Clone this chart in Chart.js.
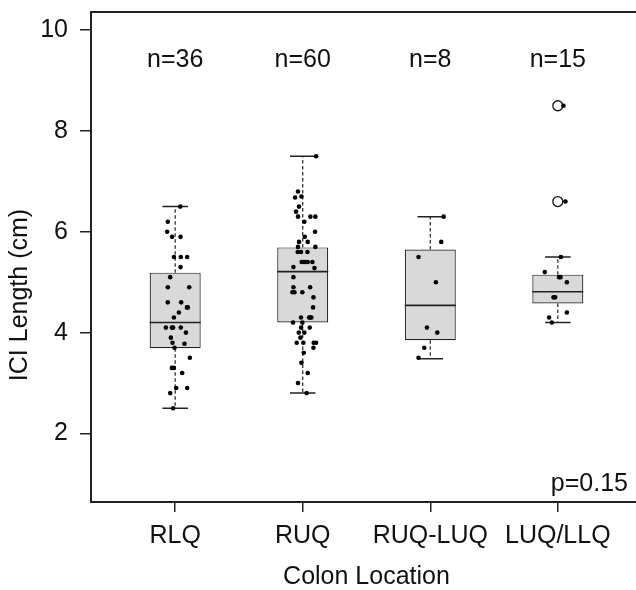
<!DOCTYPE html>
<html><head><meta charset="utf-8">
<style>
html,body{margin:0;padding:0;overflow:hidden;background:#fff;width:636px;height:590px;}
#wrap{width:650px;height:590px;position:relative;}
canvas{display:block;}
</style>
<script src="https://cdn.jsdelivr.net/npm/chart.js@4.4.1/dist/chart.umd.min.js"></script>
</head><body><div id="wrap"><canvas id="c" width="650" height="590"></canvas></div>
<script>
// ---- data ----
const categories = ['RLQ', 'RUQ', 'RUQ-LUQ', 'LUQ/LLQ'];
const nLabels = ['n=36', 'n=60', 'n=8', 'n=15'];
const pValueLabel = 'p=0.15';
const yTickValues = [2, 4, 6, 8, 10];
const xTitle = 'Colon Location';
const yTitle = 'ICI Length (cm)';

const whiskerLow  = [2.5, 2.8, 3.48, 4.2];
const q1          = [3.69, 4.2, 3.85, 4.58];
const median      = [4.2, 5.21, 4.54, 4.81];
const q3          = [5.19, 5.69, 5.65, 5.15];
const whiskerHigh = [6.5, 7.5, 6.3, 5.5];

const outlierGroup  = [4, 4];
const outlierValues = [8.5, 6.6];

const rlqValues = [6.5, 6.2, 6.0, 5.9, 5.9, 5.5, 5.5, 5.5, 5.3, 5.1, 4.9, 4.9, 4.6, 4.6, 4.5, 4.5, 4.4, 4.3, 4.1, 4.1, 4.1, 4.1, 4.0, 3.9, 3.8, 3.78, 3.7, 3.5, 3.3, 3.3, 3.2, 2.9, 2.9, 2.8, 2.5];
const rlqJitter = [0.04, -0.058, -0.063, -0.024, 0.042, -0.01, 0.044, 0.094, 0.042, -0.039, -0.058, 0.11, -0.058, 0.047, 0.092, 0.099, 0.029, -0.01, -0.073, -0.026, -0.016, 0.044, 0.084, -0.034, -0.021, 0.073, -0.005, 0.115, -0.026, -0.01, 0.055, 0.008, 0.094, -0.039, -0.016];

const ruqValues = [7.5, 6.8, 6.68, 6.7, 6.5, 6.4, 6.3, 6.3, 6.3, 6.2, 6.0, 5.9, 5.8, 5.8, 5.7, 5.7, 5.6, 5.6, 5.6, 5.4, 5.4, 5.4, 5.4, 5.4, 5.3, 5.28, 5.1, 4.9, 4.9, 4.8, 4.8, 4.8, 4.7, 4.5, 4.3, 4.3, 4.3, 4.3, 4.2, 4.2, 4.1, 4.1, 4.0, 4.0, 3.9, 3.8, 3.8, 3.8, 3.8, 3.7, 3.6, 3.4, 3.2, 3.0, 2.8];
const ruqJitter = [0.105, -0.037, -0.06, -0.01, -0.029, -0.052, -0.037, 0.06, 0.099, 0.013, 0.097, 0.016, -0.029, 0.039, -0.037, 0.099, -0.039, -0.013, 0.037, -0.008, 0.008, 0.024, 0.039, 0.076, -0.073, 0.092, -0.073, -0.073, 0.058, -0.081, -0.065, -0.003, 0.084, 0.081, -0.013, 0.05, 0.06, 0.068, -0.076, -0.003, -0.013, 0.055, -0.031, 0.013, -0.018, -0.047, 0.005, 0.086, 0.105, 0.084, 0.008, -0.01, 0.039, -0.037, 0.031];

const midValues = [6.3, 5.8, 5.5, 5.0, 4.1, 4.0, 3.7, 3.5];
const midJitter = [0.105, 0.086, -0.092, 0.044, -0.026, 0.055, -0.047, -0.092];

const luqValues = [8.5, 6.6, 5.5, 5.2, 5.1, 5.1, 5.0, 4.7, 4.7, 4.4, 4.3, 4.2];
const luqJitter = [0.044, 0.06, 0.024, -0.102, 0.01, 0.021, 0.071, -0.034, -0.021, 0.071, -0.068, -0.047];

// ---- build datasets ----
const FONT = '"Liberation Sans", Arial, Helvetica, sans-serif';
const groups = [[rlqValues, rlqJitter], [ruqValues, ruqJitter], [midValues, midJitter], [luqValues, luqJitter]];
const pointData = [];
groups.forEach((g, i) => g[0].forEach((v, k) => pointData.push({ x: i + 1 + g[1][k], y: v })));
const boxData = categories.map((c, i) => ({ x: i + 1, y: [q1[i], q3[i]] }));
const outlierData = outlierValues.map((v, i) => ({ x: outlierGroup[i], y: v }));

const boxPlugin = {
  id: 'boxParts',
  afterDatasetDraw(chart, args) {
    if (args.meta.type !== 'bar') return;
    const ctx = chart.ctx, ys = chart.scales.y;
    ctx.save();
    ctx.strokeStyle = '#222';
    args.meta.data.forEach((bar, i) => {
      const x = bar.x, half = bar.width / 2, cap = half / 2;
      const yMed = ys.getPixelForValue(median[i]);
      ctx.setLineDash([]);
      ctx.lineWidth = 1.6;
      ctx.beginPath(); ctx.moveTo(x - half, yMed); ctx.lineTo(x + half, yMed); ctx.stroke();
      ctx.lineWidth = 1.2;
      ctx.setLineDash([3.5, 2.5]);
      ctx.beginPath();
      ctx.moveTo(x, ys.getPixelForValue(q3[i])); ctx.lineTo(x, ys.getPixelForValue(whiskerHigh[i]));
      ctx.moveTo(x, ys.getPixelForValue(q1[i])); ctx.lineTo(x, ys.getPixelForValue(whiskerLow[i]));
      ctx.stroke();
      ctx.setLineDash([]);
      ctx.lineWidth = 1.5;
      ctx.beginPath();
      const yh = ys.getPixelForValue(whiskerHigh[i]), yl = ys.getPixelForValue(whiskerLow[i]);
      ctx.moveTo(x - cap, yh); ctx.lineTo(x + cap, yh);
      ctx.moveTo(x - cap, yl); ctx.lineTo(x + cap, yl);
      ctx.stroke();
    });
    ctx.restore();
  },
  afterDraw(chart) {
    const ctx = chart.ctx, a = chart.chartArea, xs = chart.scales.x, ys = chart.scales.y;
    ctx.save();
    ctx.strokeStyle = '#222';
    ctx.lineWidth = 2;
    ctx.strokeRect(a.left, a.top, a.right - a.left, a.bottom - a.top);
    ctx.fillStyle = '#111';
    ctx.font = '25px ' + FONT;
    ctx.textAlign = 'center';
    ctx.textBaseline = 'middle';
    nLabels.forEach((t, i) => ctx.fillText(t, xs.getPixelForValue(i + 1), ys.getPixelForValue(9.4)));
    ctx.textAlign = 'right';
    ctx.fillText(pValueLabel, xs.getPixelForValue(4.55), ys.getPixelForValue(1.0));
    ctx.translate(20, (a.top + a.bottom) / 2 + 38);
    ctx.rotate(-Math.PI / 2);
    ctx.textAlign = 'center';
    ctx.fillText(yTitle, 0, 0);
    ctx.restore();
  }
};

new Chart(document.getElementById('c'), {
  type: 'bar',
  data: {
    datasets: [
      { type: 'bar', data: boxData, backgroundColor: '#d9d9d9', borderColor: '#222', borderWidth: 1.2,
        borderSkipped: false, barPercentage: 0.4, categoryPercentage: 1, order: 3 },
      { type: 'scatter', data: outlierData, pointRadius: 5, pointBorderWidth: 1.3,
        pointBackgroundColor: '#fff', pointBorderColor: '#111', showLine: false, order: 2 },
      { type: 'scatter', data: pointData, pointRadius: 2.3, pointBorderWidth: 0,
        pointBackgroundColor: '#000', pointBorderColor: '#000', showLine: false, order: 1 }
    ]
  },
  options: {
    responsive: false,
    animation: false,
    devicePixelRatio: 1,
    layout: { padding: { top: 12, right: 8, left: 0, bottom: 0 } },
    plugins: { legend: { display: false }, tooltip: { enabled: false } },
    scales: {
      x: {
        type: 'linear', min: 0.34, max: 4.66, offset: false,
        afterBuildTicks: s => { s.ticks = categories.map((c, i) => ({ value: i + 1 })); },
        afterFit: s => { s.height = 88; s.paddingLeft = 0; s.paddingRight = 0; },
        ticks: { callback: v => categories[v - 1], font: { family: FONT, size: 25 }, color: '#111',
                 padding: 9, autoSkip: false, maxRotation: 0 },
        grid: { offset: false, drawOnChartArea: false, drawTicks: true, tickLength: 10, color: '#222', lineWidth: 1.5 },
        border: { display: false },
        title: { display: true, text: xTitle, color: '#111', font: { family: FONT, size: 25, lineHeight: 1 },
                 padding: { top: 0, bottom: 0 } }
      },
      y: {
        type: 'linear', min: 0.64, max: 10.36,
        afterBuildTicks: s => { s.ticks = yTickValues.map(v => ({ value: v })); },
        afterFit: s => { s.width = 91; s.paddingTop = 0; s.paddingBottom = 0; },
        ticks: { font: { family: FONT, size: 25 }, color: '#111', padding: 12 },
        grid: { drawOnChartArea: false, drawTicks: true, tickLength: 11, color: '#222', lineWidth: 1.5 },
        border: { display: false }
      }
    }
  },
  plugins: [boxPlugin]
});
</script>
</body></html>
